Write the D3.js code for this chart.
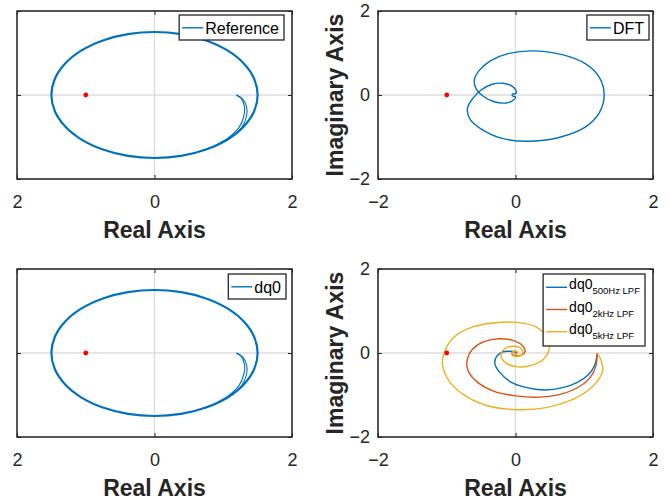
<!DOCTYPE html>
<html lang="en">
<head>
<meta charset="UTF-8">
<title>Nyquist comparison</title>
<script src="https://cdnjs.cloudflare.com/ajax/libs/d3/7.8.5/d3.min.js"></script>
<style>
  body { margin: 0; background: #fff; }
  svg { display: block; font-family: "Liberation Sans", Arial, Helvetica, sans-serif; }
  .tick text { font-size: 18px; fill: #262626; }
  .tick line { stroke: #262626; }
</style>
</head>
<body>
<svg id="chart" width="670" height="500"></svg>
<script>
const axisTicks = [-2, 0, 2];
const criticalPoint = [-1, 0];

// reference: a circle of radius ~1.5 traced several times, plus two thin tails from (1.19, 0)
const refLoop = [
  [1.5, 0], [1.449, 0.388], [1.299, 0.75], [1.061, 1.061], [0.75, 1.299], [0.388, 1.449],
  [0, 1.5], [-0.388, 1.449], [-0.75, 1.299], [-1.061, 1.061], [-1.299, 0.75], [-1.449, 0.388],
  [-1.5, 0], [-1.449, -0.388], [-1.299, -0.75], [-1.061, -1.061], [-0.75, -1.299], [-0.388, -1.449],
  [0, -1.5], [0.388, -1.449], [0.75, -1.299], [1.061, -1.061], [1.299, -0.75], [1.449, -0.388]
];
const refTailOuter = [[1.19, 0], [1.28, -0.09], [1.34, -0.28], [1.34, -0.5], [1.27, -0.77], [1.12, -1.01], [0.92, -1.19], [0.7, -1.32]];
const refTailInner = [[1.19, 0], [1.26, -0.08], [1.31, -0.28], [1.3, -0.5], [1.23, -0.77], [1.08, -1.01], [0.88, -1.2], [0.66, -1.34]];

// dq0 reads the same as the reference at this resolution
const dq0Loop = refLoop;
const dq0TailOuter = refTailOuter;
const dq0TailInner = refTailInner;

// DFT: one closed curve through (1.29, 0) and the origin
const dftCurve = [
  [1.29, 0], [1.22, 0.42], [1.02, 0.74], [0.68, 0.96], [0.24, 1.05], [-0.12, 0.98], [-0.36, 0.82],
  [-0.53, 0.58], [-0.6, 0.35], [-0.57, 0.14], [-0.47, -0.03], [-0.31, -0.16], [-0.14, -0.19],
  [-0.03, -0.12], [0, -0.04], [-0.03, -0.03], [-0.05, 0], [-0.03, 0.03], [0, 0.03],
  [0.01, 0.1], [-0.04, 0.2], [-0.18, 0.28], [-0.35, 0.25], [-0.5, 0.12], [-0.62, -0.08],
  [-0.7, -0.32], [-0.66, -0.58], [-0.48, -0.83], [-0.18, -1.04], [0.22, -1.1], [0.66, -1.0],
  [1.02, -0.76], [1.22, -0.42]
];

// dq0 with low-pass filters: spirals from (1.19, 0) into the origin
const lpf500 = [
  [1.19, 0], [1.15, -0.3], [1.06, -0.52], [0.9, -0.7], [0.7, -0.82], [0.41, -0.88], [0.15, -0.82],
  [-0.08, -0.68], [-0.22, -0.48], [-0.3, -0.26], [-0.27, -0.07], [-0.18, 0.03], [-0.08, 0.04],
  [0, 0.02], [0.02, 0]
];
const lpf2k = [
  [1.19, 0], [1.17, -0.3], [1.1, -0.55], [0.95, -0.78], [0.7, -0.96], [0.35, -1.05], [0, -1.02],
  [-0.3, -0.92], [-0.55, -0.7], [-0.69, -0.42], [-0.7, -0.14], [-0.62, 0.1], [-0.46, 0.27],
  [-0.24, 0.34], [-0.04, 0.3], [0.1, 0.18], [0.14, 0.04], [0.09, -0.05], [0.01, -0.07],
  [-0.05, -0.03], [-0.05, 0.02], [0, 0.04], [0.03, 0.01], [0.01, -0.02], [-0.01, 0]
];
const lpf5k = [
  [1.19, 0], [1.25, -0.2], [1.27, -0.4], [1.2, -0.65], [1.05, -0.9], [0.8, -1.13], [0.45, -1.3],
  [0.05, -1.35], [-0.35, -1.28], [-0.7, -1.05], [-0.95, -0.7], [-1.06, -0.3], [-1.03, 0.05],
  [-0.88, 0.4], [-0.62, 0.62], [-0.3, 0.72], [0.02, 0.73], [0.3, 0.62], [0.46, 0.36],
  [0.49, 0.1], [0.41, -0.14], [0.24, -0.29], [0.03, -0.33], [-0.14, -0.24], [-0.21, -0.06],
  [-0.16, 0.1], [-0.02, 0.16], [0.09, 0.09], [0.1, -0.02], [0.04, -0.08], [-0.03, -0.07],
  [-0.06, -0.01], [-0.03, 0.04], [0.02, 0.04], [0.03, 0], [0, -0.02]
];

const blue = "#0072BD", orange = "#D95319", yellow = "#EDB120";
const ink = "#262626";

// left column sits at the figure edge: its y labels and the minus signs are cut off
const panels = [
  { left: 17, top: 11, cropped: true, legendRight: 284, legendTop: 15, legendFont: 16,
    series: [
      { pts: refLoop, color: blue, width: 2.2, closed: true, name: "Reference" },
      { pts: refTailOuter, color: blue, width: 1.1 },
      { pts: refTailInner, color: blue, width: 1.1 }
    ] },
  { left: 378, top: 11, cropped: false, legendRight: 649, legendTop: 15, legendFont: 16,
    series: [
      { pts: dftCurve, color: blue, width: 1.4, closed: true, name: "DFT" }
    ] },
  { left: 17, top: 269, cropped: true, legendRight: 286, legendTop: 274, legendFont: 16,
    series: [
      { pts: dq0Loop, color: blue, width: 2.2, closed: true, name: "dq0" },
      { pts: dq0TailOuter, color: blue, width: 1.1 },
      { pts: dq0TailInner, color: blue, width: 1.1 }
    ] },
  { left: 378, top: 269, cropped: false, legendRight: 645, legendTop: 274, legendFont: 14,
    series: [
      { pts: lpf500, color: blue, width: 1.4, name: "dq0", sub: "500Hz LPF" },
      { pts: lpf2k, color: orange, width: 1.4, name: "dq0", sub: "2kHz LPF" },
      { pts: lpf5k, color: yellow, width: 1.4, name: "dq0", sub: "5kHz LPF" }
    ] }
];

const W = 275, H = 168;
const svg = d3.select("#chart");
const fmt = d3.format("d");

panels.forEach((p, i) => {
  const g = svg.append("g").attr("transform", `translate(${p.left},${p.top})`);
  const x = d3.scaleLinear().domain([-2, 2]).range([0, W]);
  const y = d3.scaleLinear().domain([-2, 2]).range([H, 0]);

  g.append("defs").append("clipPath").attr("id", `plot-${i}`)
    .append("rect").attr("width", W).attr("height", H);

  // grid
  g.append("g").selectAll("line").data(axisTicks).join("line")
    .attr("x1", d => x(d)).attr("x2", d => x(d)).attr("y1", 0).attr("y2", H)
    .attr("stroke", "#dcdcdc").attr("stroke-width", 1.5);
  g.append("g").selectAll("line").data(axisTicks).join("line")
    .attr("y1", d => y(d)).attr("y2", d => y(d)).attr("x1", 0).attr("x2", W)
    .attr("stroke", "#dcdcdc").attr("stroke-width", 1.5);

  // curves
  const plot = g.append("g").attr("clip-path", `url(#plot-${i})`);
  p.series.forEach(s => {
    const line = d3.line()
      .x(d => x(d[0])).y(d => y(d[1]))
      .curve(s.closed ? d3.curveCatmullRomClosed : d3.curveCatmullRom);
    plot.append("path").attr("d", line(s.pts))
      .attr("fill", "none").attr("stroke", s.color).attr("stroke-width", s.width)
      .attr("stroke-linejoin", "round");
  });
  plot.append("circle")
    .attr("cx", x(criticalPoint[0])).attr("cy", y(criticalPoint[1])).attr("r", 2.4)
    .attr("fill", "#ff0000");

  // axes
  const noDomain = a => a.select(".domain").remove();
  const xFmt = p.cropped ? d => fmt(Math.abs(d)) : fmt;
  const yFmt = p.cropped ? () => "" : fmt;
  const axes = g.append("g");
  axes.append("g").attr("transform", `translate(0,${H})`)
    .call(d3.axisBottom(x).tickValues(axisTicks).tickFormat(xFmt)
      .tickSizeInner(-4).tickSizeOuter(0).tickPadding(16))
    .call(noDomain);
  axes.append("g")
    .call(d3.axisLeft(y).tickValues(axisTicks).tickFormat(yFmt)
      .tickSizeInner(-4).tickSizeOuter(0).tickPadding(8))
    .call(noDomain);
  axes.append("g")
    .call(d3.axisTop(x).tickValues(axisTicks).tickSizeInner(-4).tickSizeOuter(0).tickFormat(() => ""))
    .call(noDomain);
  axes.append("g").attr("transform", `translate(${W},0)`)
    .call(d3.axisRight(y).tickValues(axisTicks).tickSizeInner(-4).tickSizeOuter(0).tickFormat(() => ""))
    .call(noDomain);
  axes.selectAll(".tick text").attr("font-family", null).attr("font-size", null);

  if (!p.cropped) {
    axes.append("text")
      .attr("transform", `translate(-35,${H / 2}) rotate(-90)`)
      .attr("text-anchor", "middle")
      .attr("font-size", 23).attr("font-weight", "bold").attr("fill", ink)
      .text("Imaginary Axis");
  }

  g.append("rect").attr("width", W).attr("height", H)
    .attr("fill", "none").attr("stroke", ink).attr("stroke-width", 1.5);

  g.append("text")
    .attr("x", W / 2).attr("y", H + 59)
    .attr("text-anchor", "middle")
    .attr("font-size", 23).attr("font-weight", "bold").attr("fill", ink)
    .text("Real Axis");

  // legend
  const entries = p.series.filter(s => s.name);
  const multi = entries.length > 1;
  const boxH = multi ? 72 : 25;
  const lg = g.append("g");
  const bg = lg.append("rect").attr("height", boxH)
    .attr("fill", "#fff").attr("stroke", ink).attr("stroke-width", 1.3);
  entries.forEach((s, k) => {
    const ry = multi ? 13.3 + k * 22.2 : 12.8;
    lg.append("line").attr("x1", 3).attr("x2", 24).attr("y1", ry).attr("y2", ry)
      .attr("stroke", s.color).attr("stroke-width", 1.4);
    const t = lg.append("text").attr("class", "lg-text")
      .attr("x", 26).attr("y", multi ? ry + 2 : ry + 6)
      .attr("font-size", p.legendFont).attr("fill", "#000");
    t.append("tspan").text(s.name);
    if (s.sub) t.append("tspan").attr("font-size", 9.5).attr("dy", 5).text(s.sub);
  });
  let maxW = 0;
  lg.selectAll(".lg-text").each(function () { maxW = Math.max(maxW, this.getComputedTextLength()); });
  const boxW = 26 + maxW + 5;
  bg.attr("width", boxW);
  lg.attr("transform", `translate(${p.legendRight - p.left - boxW},${p.legendTop - p.top})`);
});
</script>
</body>
</html>
